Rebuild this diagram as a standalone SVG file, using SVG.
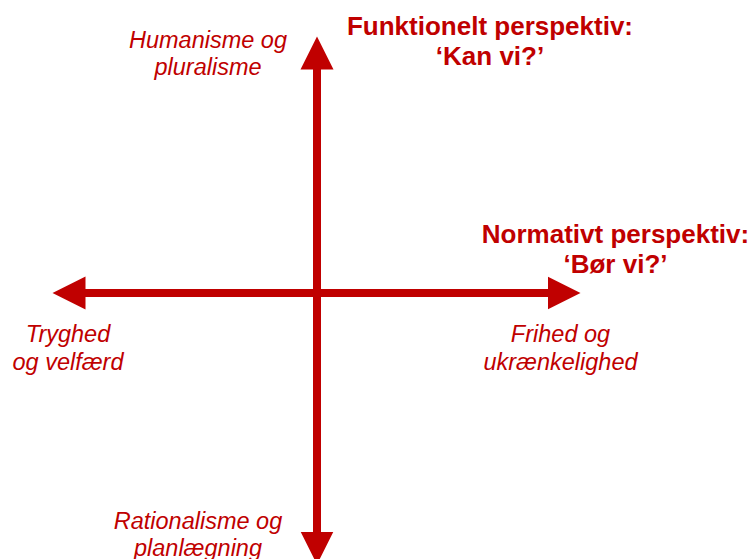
<svg xmlns="http://www.w3.org/2000/svg" width="755" height="559" viewBox="0 0 755 559">
  <style>
    .axis { stroke: #C00000; stroke-width: 8; fill: none; }
    .head { font-family: "Liberation Sans", Arial, sans-serif; font-weight: bold; font-size: 26px; fill: #C00000; text-anchor: middle; }
    .lbl { font-family: "Liberation Sans", Arial, sans-serif; font-style: italic; font-size: 23.5px; fill: #C00000; text-anchor: middle; }
  </style>
  <defs>
    <marker id="ah" markerUnits="userSpaceOnUse" viewBox="0 0 34 34" markerWidth="34" markerHeight="34" refX="0.5" refY="17" orient="auto-start-reverse">
      <path d="M0,0.5 L33,17 L0,33.5 z" fill="#C00000"/>
    </marker>
  </defs>
  <rect width="755" height="559" fill="#ffffff"/>
  <g id="connectors">
    <line class="axis" x1="85" y1="293" x2="548" y2="293" marker-start="url(#ah)" marker-end="url(#ah)"/>
    <line class="axis" x1="317" y1="69" x2="317" y2="532" marker-start="url(#ah)" marker-end="url(#ah)"/>
  </g>
  <g id="funktionelt">
    <text class="head" x="490" y="35">Funktionelt perspektiv:</text>
    <text class="head" x="490" y="65">‘Kan vi?’</text>
  </g>
  <g id="normativt">
    <text class="head" x="615.5" y="243">Normativt perspektiv:</text>
    <text class="head" x="615.5" y="273">‘Bør vi?’</text>
  </g>
  <g id="humanisme">
    <text class="lbl" x="208" y="48">Humanisme og</text>
    <text class="lbl" x="208" y="75">pluralisme</text>
  </g>
  <g id="tryghed">
    <text class="lbl" x="68" y="342">Tryghed</text>
    <text class="lbl" x="68" y="370">og velfærd</text>
  </g>
  <g id="frihed">
    <text class="lbl" x="560.5" y="342">Frihed og</text>
    <text class="lbl" x="560.5" y="370">ukrænkelighed</text>
  </g>
  <g id="rationalisme">
    <text class="lbl" x="198" y="529">Rationalisme og</text>
    <text class="lbl" x="198" y="556">planlægning</text>
  </g>
</svg>
